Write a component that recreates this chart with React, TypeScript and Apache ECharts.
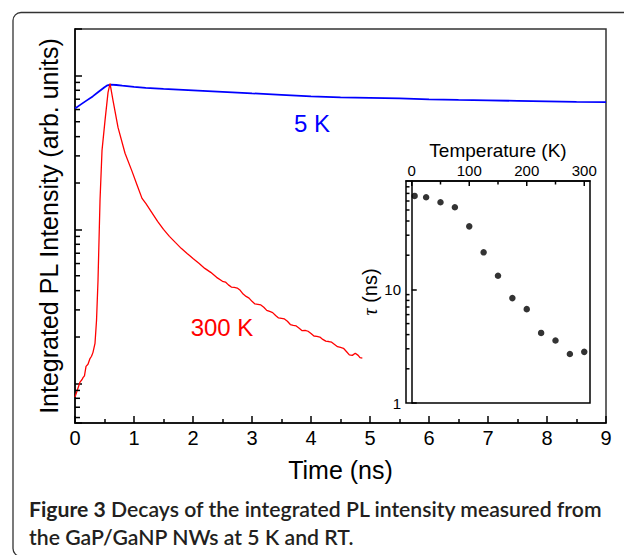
import React, { useEffect, useRef } from "react";
import * as echarts from "echarts";

// ---- Data ----
// 5 K decay (time in ns, intensity arb. units on log scale)
const TIME_5K = [0, 0.1, 0.2, 0.3, 0.4, 0.5, 0.55, 0.6, 0.7, 0.8, 1.0, 1.2, 1.5, 2.0, 2.5, 3.0, 3.5, 4.0, 4.5, 5.0, 5.5, 6.0, 6.5, 7.0, 7.5, 8.0, 8.5, 9.0];
const PL_5K = [61.0, 64.8, 68.8, 73.0, 78.2, 83.6, 86.1, 87.0, 86.6, 85.7, 84.2, 82.9, 81.7, 79.9, 78.2, 76.4, 74.7, 73.0, 71.9, 71.4, 70.9, 69.9, 69.3, 68.8, 68.3, 67.8, 67.3, 67.1];

// 300 K decay
const TIME_300K = [
  0, 0.05, 0.085, 0.12, 0.136, 0.16, 0.187, 0.22, 0.254, 0.28, 0.305, 0.339, 0.365, 0.39, 0.424, 0.458, 0.509, 0.56, 0.594,
  0.644, 0.729, 0.848, 0.967, 1.05, 1.136, 1.2, 1.3, 1.4, 1.5, 1.6, 1.7, 1.8, 1.9, 2.0, 2.1, 2.2, 2.3, 2.4, 2.5, 2.55, 2.6,
  2.65, 2.7, 2.75, 2.8, 2.85, 2.9, 2.95, 3.0, 3.05, 3.1, 3.15, 3.2, 3.25, 3.3, 3.35, 3.4, 3.45, 3.5, 3.55, 3.6, 3.65, 3.7,
  3.75, 3.8, 3.85, 3.9, 3.95, 4.0, 4.05, 4.1, 4.15, 4.2, 4.25, 4.3, 4.35, 4.4, 4.45, 4.5, 4.55, 4.6, 4.65, 4.7, 4.75, 4.8,
  4.83, 4.87,
];
const PL_300K = [
  0.815, 0.93, 1.02, 1.06, 1.09, 1.12, 1.29, 1.33, 1.45, 1.5, 1.59, 1.82, 2.57, 4.66, 15.4, 32.6, 51.0, 77.6, 88.3,
  68.8, 45.9, 31.2, 23.8, 19.5, 15.9, 14.75, 12.9, 11.27, 10.0, 9.01, 8.23, 7.53, 6.98, 6.48, 6.02, 5.58, 5.26, 4.88, 4.6, 4.55, 4.36,
  4.22, 4.2, 4.16, 4.02, 3.8, 3.67, 3.58, 3.41, 3.28, 3.26, 3.23, 3.12, 2.98, 2.93, 2.88, 2.76, 2.66, 2.64, 2.62, 2.53, 2.41, 2.38,
  2.36, 2.28, 2.2, 2.21, 2.18, 2.11, 2.03, 2.02, 2.0, 1.93, 1.88, 1.87, 1.85, 1.79, 1.73, 1.71, 1.69, 1.61, 1.53, 1.52, 1.57, 1.52,
  1.47, 1.46,
];

// Inset: lifetime vs temperature
const TEMP_K = [5, 25, 50, 75, 100, 125, 150, 175, 200, 225, 250, 275, 300];
const TAU_NS = [66.5, 64.8, 58.5, 52.9, 35.9, 21.2, 13.2, 8.38, 6.7, 4.14, 3.55, 2.7, 2.82];

// Axis ranges and tick values
const MAIN_X_MIN = 0;
const MAIN_X_MAX = 9;
const MAIN_Y_MIN = 0.553;
const MAIN_Y_MAX = 200;
const MAIN_Y_MINOR = [0.6, 0.7, 0.8, 0.9, 2, 3, 4, 5, 6, 7, 8, 9, 20, 30, 40, 50, 60, 70, 80, 90];
const INSET_X_MIN = -10;
const INSET_X_MAX = 310;
const INSET_X_MAJOR = [0, 100, 200, 300];
const INSET_X_MINOR = [50, 150, 250];
const INSET_Y_MIN = 1;
const INSET_Y_MAX = 90;
const INSET_Y_MINOR = [2, 3, 4, 5, 6, 7, 8, 9, 20, 30, 40, 50, 60, 70, 80];

const FONT = "'Liberation Sans', Arial, Helvetica, sans-serif";
const CAP_FONT = "Lato, 'Open Sans', sans-serif";

function measure(font: string, text: string): number {
  const c = document.createElement("canvas").getContext("2d");
  if (!c) return text.length * 10;
  c.font = font;
  return c.measureText(text).width;
}

export default function App() {
  const ref = useRef<HTMLDivElement>(null);

  useEffect(() => {
    if (!ref.current) return;
    const chart = echarts.init(ref.current, null, { renderer: "svg" });

    const cap1a = "Figure 3";
    const cap1b = " Decays of the integrated PL intensity measured from";
    const cap2 = "the GaP/GaNP NWs at 5 K and RT.";
    const base = 20;
    const w1 = measure(`bold ${base}px Lato`, cap1a) + measure(`600 ${base}px Lato`, cap1b);
    const capSize = Math.round(((base * 575) / w1) * 10) / 10;

    const blue = TIME_5K.map((t, i) => [t, PL_5K[i]]);
    const red = TIME_300K.map((t, i) => [t, PL_300K[i]]);
    const inset = TEMP_K.map((t, i) => [t, TAU_NS[i]]);

    const tickLine = { color: "#000", width: 1.5 };

    const baseGraphic: any[] = [
      {
        id: "frame",
        type: "rect",
        z: -10,
        silent: true,
        shape: { x: 13, y: 12.5, width: 640, height: 544, r: 8 },
        style: { fill: "none", stroke: "#333", lineWidth: 1.3 },
      },
      {
        id: "lbl5k",
        type: "text",
        x: 312,
        y: 123,
        silent: true,
        style: { text: "5 K", fill: "#0000ff", font: `24px ${FONT}`, align: "center", verticalAlign: "middle" },
      },
      {
        id: "lbl300k",
        type: "text",
        x: 222,
        y: 327,
        silent: true,
        style: { text: "300 K", fill: "#ff0000", font: `24px ${FONT}`, align: "center", verticalAlign: "middle" },
      },
      {
        id: "cap1",
        type: "text",
        x: 29,
        y: 519.5,
        silent: true,
        style: {
          text: `{b|${cap1a}}{r|${cap1b}}`,
          fill: "#231f20",
          font: `600 ${capSize}px ${CAP_FONT}`,
          verticalAlign: "bottom",
          rich: {
            b: { fontWeight: "bold", fontSize: capSize, fontFamily: CAP_FONT, fill: "#231f20" },
            r: { fontWeight: 600, fontSize: capSize, fontFamily: CAP_FONT, fill: "#231f20" },
          },
        },
      },
      {
        id: "cap2",
        type: "text",
        x: 29,
        y: 547,
        silent: true,
        style: {
          text: `{r|${cap2}}`,
          fill: "#231f20",
          font: `600 ${capSize}px ${CAP_FONT}`,
          verticalAlign: "bottom",
          rich: {
            r: { fontWeight: 600, fontSize: capSize, fontFamily: CAP_FONT, fill: "#231f20" },
          },
        },
      },
    ];

    chart.setOption({
      animation: false,
      backgroundColor: "#fff",
      grid: [
        { left: 75, top: 29, width: 531, height: 394, show: true, borderColor: "#333", borderWidth: 1.5, containLabel: false },
        { left: 406, top: 181, width: 184, height: 222, show: true, borderColor: "#000", borderWidth: 1.5, containLabel: false },
      ],
      xAxis: [
        {
          gridIndex: 0,
          type: "value",
          min: MAIN_X_MIN,
          max: MAIN_X_MAX,
          interval: 1,
          splitLine: { show: false },
          axisLine: { show: true, lineStyle: { color: "#000", width: 1.5 } },
          axisTick: { show: true, inside: true, length: 7, lineStyle: tickLine },
          minorTick: { show: true, splitNumber: 2, length: 4, lineStyle: tickLine },
          axisLabel: { fontSize: 20, color: "#000", fontFamily: FONT, margin: 5 },
          name: "Time (ns)",
          nameLocation: "middle",
          nameGap: 34,
          nameTextStyle: { fontSize: 25, color: "#000", fontFamily: FONT },
        },
        {
          gridIndex: 1,
          type: "value",
          position: "top",
          min: INSET_X_MIN,
          max: INSET_X_MAX,
          splitLine: { show: false },
          axisLine: { show: true, lineStyle: { color: "#000", width: 1.5 } },
          axisTick: { show: false },
          axisLabel: { fontSize: 15, color: "#000", fontFamily: FONT, margin: 3, customValues: INSET_X_MAJOR },
          name: "Temperature (K)",
          nameLocation: "middle",
          nameGap: 21,
          nameTextStyle: { fontSize: 19, color: "#000", fontFamily: FONT },
        },
      ],
      yAxis: [
        {
          gridIndex: 0,
          type: "log",
          logBase: 10,
          min: MAIN_Y_MIN,
          max: MAIN_Y_MAX,
          splitLine: { show: false },
          axisLine: { show: true, lineStyle: { color: "#000", width: 1.5 } },
          axisTick: { show: true, inside: true, length: 7, lineStyle: tickLine },
          axisLabel: { show: false },
          name: "Integrated PL Intensity (arb. units)",
          nameLocation: "middle",
          nameRotate: 90,
          nameGap: 14,
          nameTextStyle: { fontSize: 25, color: "#000", fontFamily: FONT },
        },
        {
          gridIndex: 1,
          type: "log",
          logBase: 10,
          min: INSET_Y_MIN,
          max: INSET_Y_MAX,
          splitLine: { show: false },
          axisLine: { show: true, lineStyle: { color: "#000", width: 1.5 } },
          axisTick: { show: true, inside: true, length: 5, lineStyle: tickLine },
          axisLabel: { fontSize: 15, color: "#000", fontFamily: FONT, margin: 5, showMaxLabel: false },
          name: "{t|τ} (ns)",
          nameLocation: "middle",
          nameRotate: 90,
          nameGap: 23,
          nameTextStyle: {
            fontSize: 20,
            color: "#000",
            fontFamily: FONT,
            rich: { t: { fontSize: 20, fontStyle: "italic", fontFamily: "'Liberation Serif', 'DejaVu Serif', serif", color: "#000" } },
          },
        },
      ],
      series: [
        {
          type: "line",
          xAxisIndex: 0,
          yAxisIndex: 0,
          data: blue,
          showSymbol: false,
          lineStyle: { color: "#0000ff", width: 1.8 },
          silent: true,
        },
        {
          type: "line",
          xAxisIndex: 0,
          yAxisIndex: 0,
          data: red,
          showSymbol: false,
          lineStyle: { color: "#ff0000", width: 1.3 },
          silent: true,
        },
        {
          type: "scatter",
          xAxisIndex: 1,
          yAxisIndex: 1,
          data: inset,
          symbolSize: 6.5,
          itemStyle: { color: "#000" },
          silent: true,
        },
      ],
      graphic: baseGraphic,
    });

    // Minor ticks positioned through the chart's own axes
    const ticks: any[] = [];
    const addTick = (id: string, finder: any, val: number[], dx: number, dy: number) => {
      const p = chart.convertToPixel(finder, val) as number[];
      if (!p || isNaN(p[0]) || isNaN(p[1])) return;
      ticks.push({
        id,
        type: "line",
        silent: true,
        z: 20,
        shape: { x1: p[0], y1: p[1], x2: p[0] + dx, y2: p[1] + dy },
        style: { stroke: "#000", lineWidth: 1.5 },
      });
    };
    const mainF = { xAxisIndex: 0, yAxisIndex: 0 };
    const insetF = { xAxisIndex: 1, yAxisIndex: 1 };
    MAIN_Y_MINOR.forEach((v, i) => addTick(`my${i}`, mainF, [MAIN_X_MIN, v], 5, 0));
    INSET_Y_MINOR.forEach((v, i) => addTick(`iy${i}`, insetF, [INSET_X_MIN, v], 3.5, 0));
    INSET_X_MAJOR.forEach((t, i) => addTick(`ixM${i}`, insetF, [t, INSET_Y_MAX], 0, 5));
    INSET_X_MINOR.forEach((t, i) => addTick(`ixm${i}`, insetF, [t, INSET_Y_MAX], 0, 3.5));

    chart.setOption({ graphic: [...baseGraphic, ...ticks] });

    return () => chart.dispose();
  }, []);

  return <div ref={ref} style={{ position: "fixed", left: 0, top: 0, width: 624, height: 555 }} />;
}
